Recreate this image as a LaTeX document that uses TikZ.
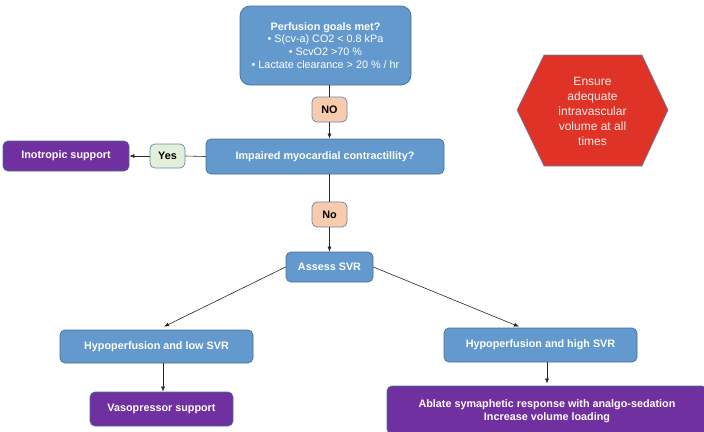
\documentclass[tikz,border=0pt]{standalone}
\usepackage{fontspec}
\setmainfont{Liberation Sans}
\usetikzlibrary{arrows.meta}
\definecolor{boxblue}{RGB}{99,153,204}
\definecolor{edgeblue}{RGB}{65,113,156}
\definecolor{boxpurple}{RGB}{113,48,160}
\definecolor{boxpeach}{RGB}{248,203,173}
\definecolor{boxgreen}{RGB}{226,239,218}
\definecolor{tagedge}{RGB}{100,135,175}
\definecolor{hexred}{RGB}{222,51,38}
\definecolor{hextext}{RGB}{255,235,232}
\tikzset{
  base/.style={inner sep=0pt, align=center, line width=0.7pt,
    font=\fontsize{10.8}{13}\selectfont\bfseries, rounded corners=5pt},
  bluebox/.style={base, fill=boxblue, draw=edgeblue, text=white},
  purplebox/.style={base, fill=boxpurple, draw=edgeblue, text=white},
  notag/.style={base, fill=boxpeach, draw=tagedge, text=black,
    minimum width=35pt, minimum height=25pt},
  yestag/.style={base, fill=boxgreen, draw=tagedge, text=black,
    minimum width=35pt, minimum height=24pt},
  link/.style={draw=black!85, line width=0.6pt},
  arr/.style={link, -{Latex[length=5pt,width=4pt]}}
}
\begin{document}
\begin{tikzpicture}[x=1pt,y=-1pt]
\useasboundingbox (0,0) rectangle (704,431);

% question and decision boxes
\node[bluebox, rounded corners=10pt, minimum width=171pt, minimum height=79pt] (goals) at (325.5,45.5)
  {Perfusion goals met?\\[-0.4pt]
   \mdseries\textbullet{} S(cv-a) CO2 < 0.8 kPa\\
   \mdseries\textbullet{} ScvO2 >70 \%\\
   \mdseries\textbullet{} Lactate clearance > 20 \% / hr};
\node[notag] (no1) at (329.5,109.5) {NO};
\node[bluebox, minimum width=238pt, minimum height=35pt] (impaired) at (325,156.5) {Impaired myocardial contractillity?};
\node[yestag] (yes) at (167.5,156) {Yes};
\node[purplebox, minimum width=126pt, minimum height=30pt] (inotropic) at (66,156) {Inotropic support};
\node[notag] (no2) at (329.5,214.5) {No};
\node[bluebox, minimum width=87pt, minimum height=30pt] (assess) at (329.5,267) {Assess SVR};
\node[bluebox, minimum width=193pt, minimum height=33pt] (low) at (156.5,346.5) {Hypoperfusion and low SVR};
\node[bluebox, minimum width=193pt, minimum height=34pt] (high) at (540.5,345) {Hypoperfusion and high SVR};
\node[purplebox, minimum width=143pt, minimum height=34pt] (vaso) at (161.5,409) {Vasopressor support};
\node[purplebox, minimum width=320pt, minimum height=48pt, text depth=0pt] (ablate) at (547,410)
  {Ablate symaphetic response with analgo-sedation\\[0.7pt]Increase volume loading};

% hexagon reminder
\draw[fill=hexred, draw=tagedge, line width=0.6pt]
  (517,110) -- (544,55) -- (642,55) -- (668,110) -- (642,166) -- (544,166) -- cycle;
\node[align=center, text=hextext, inner sep=0pt,
  font=\fontsize{12}{15}\selectfont] (hex) at (592.5,111)
  {Ensure\\adequate\\intravascular\\volume at all\\times};

% connectors
\draw[link] (goals.south -| no1.north) -- (no1.north);
\draw[arr] (no1.south) -- (no1.south |- impaired.north);
\draw[link] (impaired.west) -- (yes.east);
\draw[arr] (yes.west) -- (inotropic.east);
\draw[link] (impaired.south -| no2.north) -- (no2.north);
\draw[arr] (no2.south) -- (assess.north);
\draw[arr] (assess.west) -- ([xshift=7.5pt,yshift=3pt]low.north);
\draw[arr] (assess.east) -- ([xshift=-21.5pt,yshift=1pt]high.north);
\draw[arr] ([xshift=6.5pt]low.south) -- ([xshift=1.5pt]vaso.north);
\draw[arr, shorten >=2pt] (ablate.north |- high.south) -- (ablate.north);
\end{tikzpicture}
\end{document}
